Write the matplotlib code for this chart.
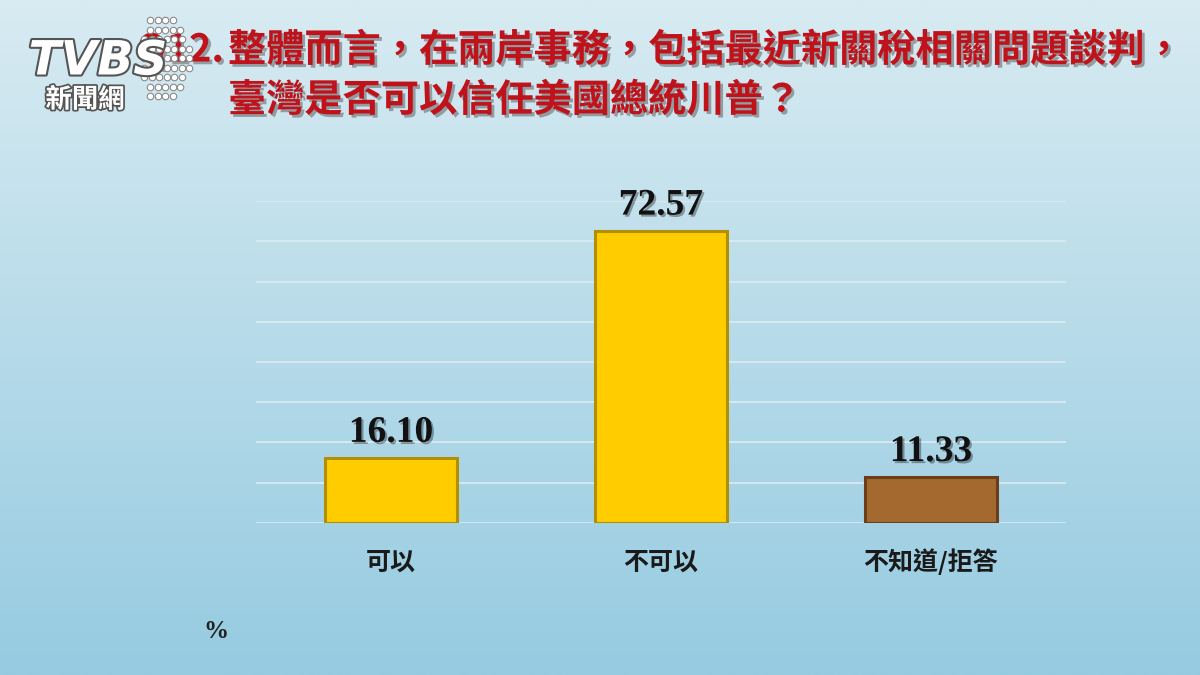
import matplotlib.pyplot as plt
import matplotlib.patheffects as pe
import numpy as np

plt.rcParams["font.family"] = ["Noto Sans CJK TC", "DejaVu Sans"]

# data
categories = ["可以", "不可以", "不知道/拒答"]
values = [16.10, 72.57, 11.33]
bar_colors = ["#ffcc00", "#ffcc00", "#a4692f"]
edge_colors = ["#b08f00", "#b08f00", "#6a3e18"]
title_q = "Q12."
title_line1 = "整體而言，在兩岸事務，包括最近新關稅相關問題談判，"
title_line2 = "臺灣是否可以信任美國總統川普？"
yticks = np.arange(0, 81, 10)

fig = plt.figure(figsize=(12, 6.75), dpi=100)

# gradient background
bg = fig.add_axes([0, 0, 1, 1], zorder=-5)
top = np.array([216, 235, 242]) / 255
bot = np.array([150, 203, 225]) / 255
t = np.linspace(0, 1, 256)[:, None]
grad = (top * (1 - t) + bot * t)[:, None, :]
bg.imshow(grad, aspect="auto", extent=[0, 1, 0, 1])
bg.axis("off")

ax = fig.add_axes([0.2133, 0.2252, 0.675, 0.477])
ax.patch.set_alpha(0)
x = np.arange(len(categories))
bars = ax.bar(x, values, width=0.49, color=bar_colors, edgecolor=edge_colors,
              linewidth=2.2, zorder=3)
for b in bars:
    b.set_path_effects([pe.SimplePatchShadow(offset=(1.5, -1.5), alpha=0.2), pe.Normal()])

ax.set_xlim(-0.5, 2.5)
ax.set_ylim(0, 80)
ax.set_yticks(yticks)
ax.yaxis.grid(True, color="#dcecf2", linewidth=1.2, zorder=0)
ax.tick_params(left=False, labelleft=False, bottom=False, pad=30)
ax.set_xticks(x)
ax.set_xticklabels(categories, fontsize=18, fontweight="bold", color="#1a1a1a",
                   va="baseline")
for s in ax.spines.values():
    s.set_visible(False)

for xi, v in zip(x, values):
    ax.annotate(f"{v:.2f}", (xi, v), xytext=(0, 6), textcoords="offset points",
                ha="center", va="bottom", fontsize=27, fontweight="bold",
                family="Liberation Serif", color="#111111",
                path_effects=[pe.SimplePatchShadow(offset=(1.5, -1.5), alpha=0.35),
                              pe.Normal()])

fig.text(216 / 1200, 1 - 632 / 675, "%", fontsize=18, fontweight="bold",
         family="Liberation Serif", ha="center", va="center", color="#222222")

# title
title_kw = dict(fontsize=27.5, fontweight="bold", color="#c0121b", va="center",
                path_effects=[pe.SimplePatchShadow(offset=(2, -2), shadow_rgbFace="#555555",
                                                   alpha=0.5), pe.Normal()])
fig.text(224 / 1200, 1 - 50 / 675, title_q, ha="right", **title_kw)
fig.text(228 / 1200, 1 - 50 / 675, title_line1, ha="left", **title_kw)
fig.text(228 / 1200, 1 - 100 / 675, title_line2, ha="left", **title_kw)

# logo
logo = fig.add_axes([0, 0, 1, 1], zorder=5)
logo.set_xlim(0, 1200)
logo.set_ylim(675, 0)
logo.axis("off")
dx, dy = [], []
for r, (x0, n) in enumerate([(150, 4), (147, 5), (144, 6), (141, 7), (144, 7), (141, 7),
                              (144, 6), (147, 5), (150, 4)]):
    for k in range(n):
        dx.append(x0 + k * 7.5 + (r % 2) * 3)
        dy.append(20 + r * 9.5)
logo.scatter(dx, dy, s=22, facecolor="white", edgecolor="#8a8a8a", linewidth=0.8)
logo.text(98, 62, "TVBS", fontsize=34, fontweight="bold", style="italic",
          family="DejaVu Sans", color="white", ha="center", va="center",
          path_effects=[pe.withStroke(linewidth=3, foreground="#555555")])
logo.text(85, 100, "新聞網", fontsize=19, fontweight="bold", color="white",
          ha="center", va="center",
          path_effects=[pe.withStroke(linewidth=2.5, foreground="#555555")])

fig.savefig("out.png", dpi=100)
